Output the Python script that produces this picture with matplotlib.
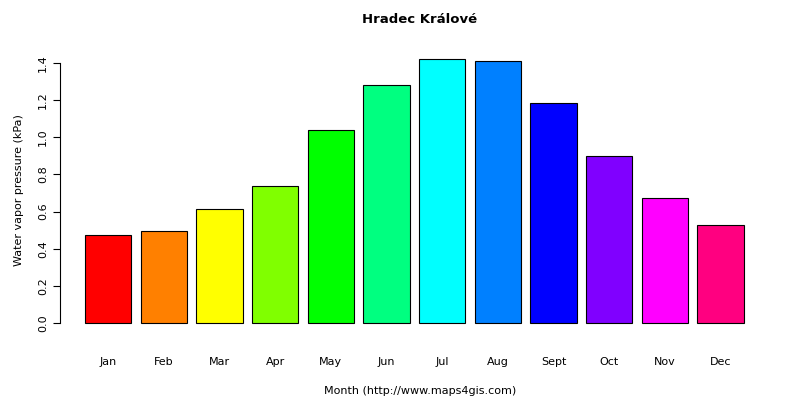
import matplotlib
matplotlib.use("Agg")
import matplotlib.pyplot as plt
import numpy as np

months = ["Jan", "Feb", "Mar", "Apr", "May", "Jun", "Jul", "Aug", "Sept", "Oct", "Nov", "Dec"]
pressure = [0.475, 0.495, 0.615, 0.735, 1.04, 1.28, 1.42, 1.41, 1.185, 0.90, 0.675, 0.53]
colors = ["#FF0000", "#FF8000", "#FFFF00", "#80FF00", "#00FF00", "#00FF80",
          "#00FFFF", "#0080FF", "#0000FF", "#8000FF", "#FF00FF", "#FF0080"]

fig = plt.figure(figsize=(8, 4), dpi=100)
# axes: left at 60px, right at 780px, bottom at 332px, top at 48px
ax = fig.add_axes([60 / 800, (400 - 332) / 400, 720 / 800, 284 / 400])

x = 0.7 + 1.2 * np.arange(len(months))
ax.bar(x, pressure, width=1.0, color=colors, edgecolor="black", linewidth=0.8)
ax.set_xlim(-0.339, 15.18)
ax.set_ylim(-0.048, 1.48)

for s in ["top", "right", "bottom"]:
    ax.spines[s].set_visible(False)
ax.spines["left"].set_bounds(0, 1.4)
ax.set_yticks(np.arange(0, 1.41, 0.2))
ax.set_yticklabels([f"{v:.1f}" for v in np.arange(0, 1.41, 0.2)], rotation=90, va="center", fontsize=8)
ax.set_xticks(x)
ax.set_xticklabels(months, fontsize=8)
ax.tick_params(axis="x", length=0, pad=18)
ax.tick_params(axis="y", length=5)

ax.set_title("Hradec Králové", fontsize=9.5, fontweight="bold", pad=18)
ax.set_ylabel("Water vapor pressure (kPa)", fontsize=8, labelpad=10)
ax.set_xlabel("Month (http://www.maps4gis.com)", fontsize=8, labelpad=14)

fig.savefig("out.png", dpi=100)
